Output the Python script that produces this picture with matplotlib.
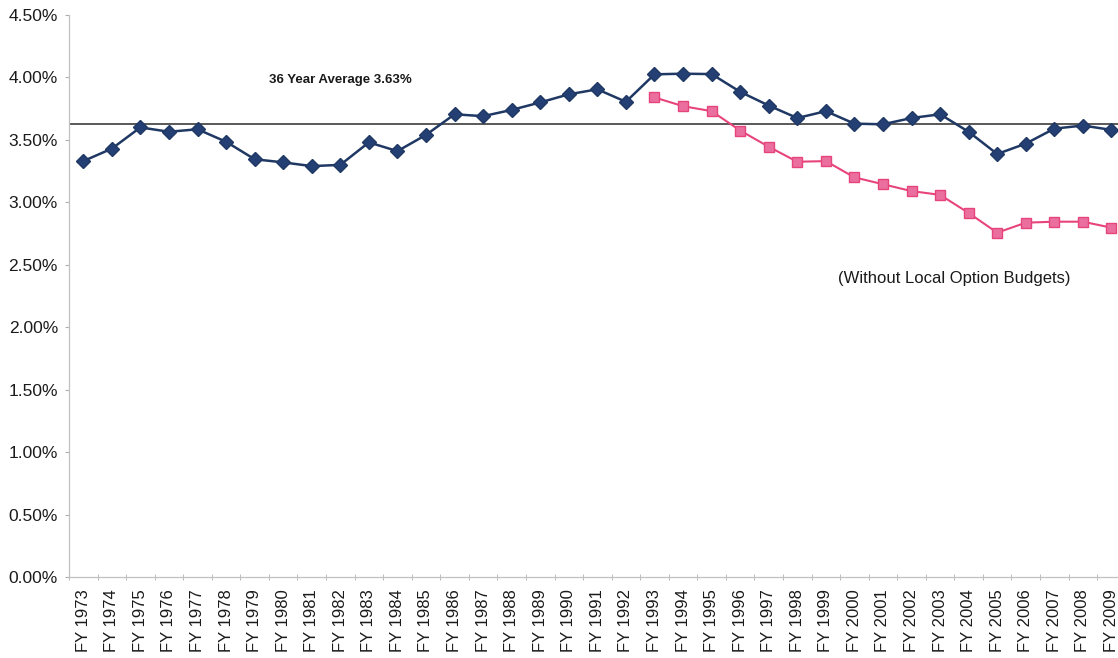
import matplotlib
matplotlib.use("Agg")
import matplotlib.pyplot as plt
from matplotlib.ticker import FuncFormatter, FixedLocator

plt.rcParams['font.family'] = ['Liberation Sans', 'DejaVu Sans']

years = [f"FY {y}" for y in range(1973, 2010)]

with_local = [3.33, 3.43, 3.60, 3.565, 3.585, 3.485, 3.345, 3.32, 3.29, 3.30,
              3.48, 3.41, 3.54, 3.705, 3.69, 3.74, 3.80, 3.865, 3.905, 3.805,
              4.025, 4.03, 4.027, 3.885, 3.775, 3.675, 3.73, 3.63, 3.625, 3.675,
              3.705, 3.565, 3.387, 3.47, 3.59, 3.615, 3.58]

without_local_years = years[20:]
without_local = [3.84, 3.77, 3.73, 3.575, 3.445, 3.325, 3.33, 3.20, 3.145, 3.09,
                 3.06, 2.915, 2.757, 2.837, 2.845, 2.845, 2.797]

average = 3.63

fig = plt.figure(figsize=(11.18, 6.58), dpi=100)
ax = fig.add_axes([69 / 1118, 1 - 577 / 658, (1125.7 - 69) / 1118, (577 - 15) / 658])

x_all = list(range(len(years)))
x_wo = [years.index(y) for y in without_local_years]

ax.axhline(average, color='#2b2b2b', lw=1.1, zorder=1)
ax.plot(x_all, with_local, color='#1f3864', lw=1.8, marker='D', markersize=7,
        markerfacecolor='#243f73', markeredgecolor='#1f3864', zorder=3)
ax.plot(x_wo, without_local, color='#e8447c', lw=1.5, marker='s', markersize=7,
        markerfacecolor='#ea6f9f', markeredgecolor='#e8447c', zorder=3)

ax.set_xlim(-0.5, len(years) - 0.5)
ax.set_ylim(0, 4.5)
ax.set_yticks([i * 0.5 for i in range(10)])
ax.yaxis.set_major_formatter(FuncFormatter(lambda v, p: f"{v:.2f}%"))

ax.set_xticks(x_all)
ax.set_xticklabels(years, rotation=90, fontsize=12, color='#1a1a1a')
ax.tick_params(axis='x', which='major', length=0, pad=9)
ax.xaxis.set_minor_locator(FixedLocator([i - 0.5 for i in range(len(years) + 1)]))
ax.tick_params(axis='x', which='minor', length=5, direction='inout', color='#b0b0b0')
ax.tick_params(axis='y', labelsize=12.5, length=3, color='#b0b0b0', labelcolor='#1a1a1a', pad=5)

for side in ['top', 'right']:
    ax.spines[side].set_visible(False)
for side in ['left', 'bottom']:
    ax.spines[side].set_color('#c0c0c0')
    ax.spines[side].set_linewidth(0.9)

ax.text(9.0, 3.98, "36 Year Average 3.63%", fontsize=9.5, fontweight='bold',
        ha='center', va='center', color='#1a1a1a')
ax.text(30.5, 2.39, "(Without Local Option Budgets)", fontsize=12,
        ha='center', va='center', color='#1a1a1a')

fig.savefig("out.png", dpi=100)
